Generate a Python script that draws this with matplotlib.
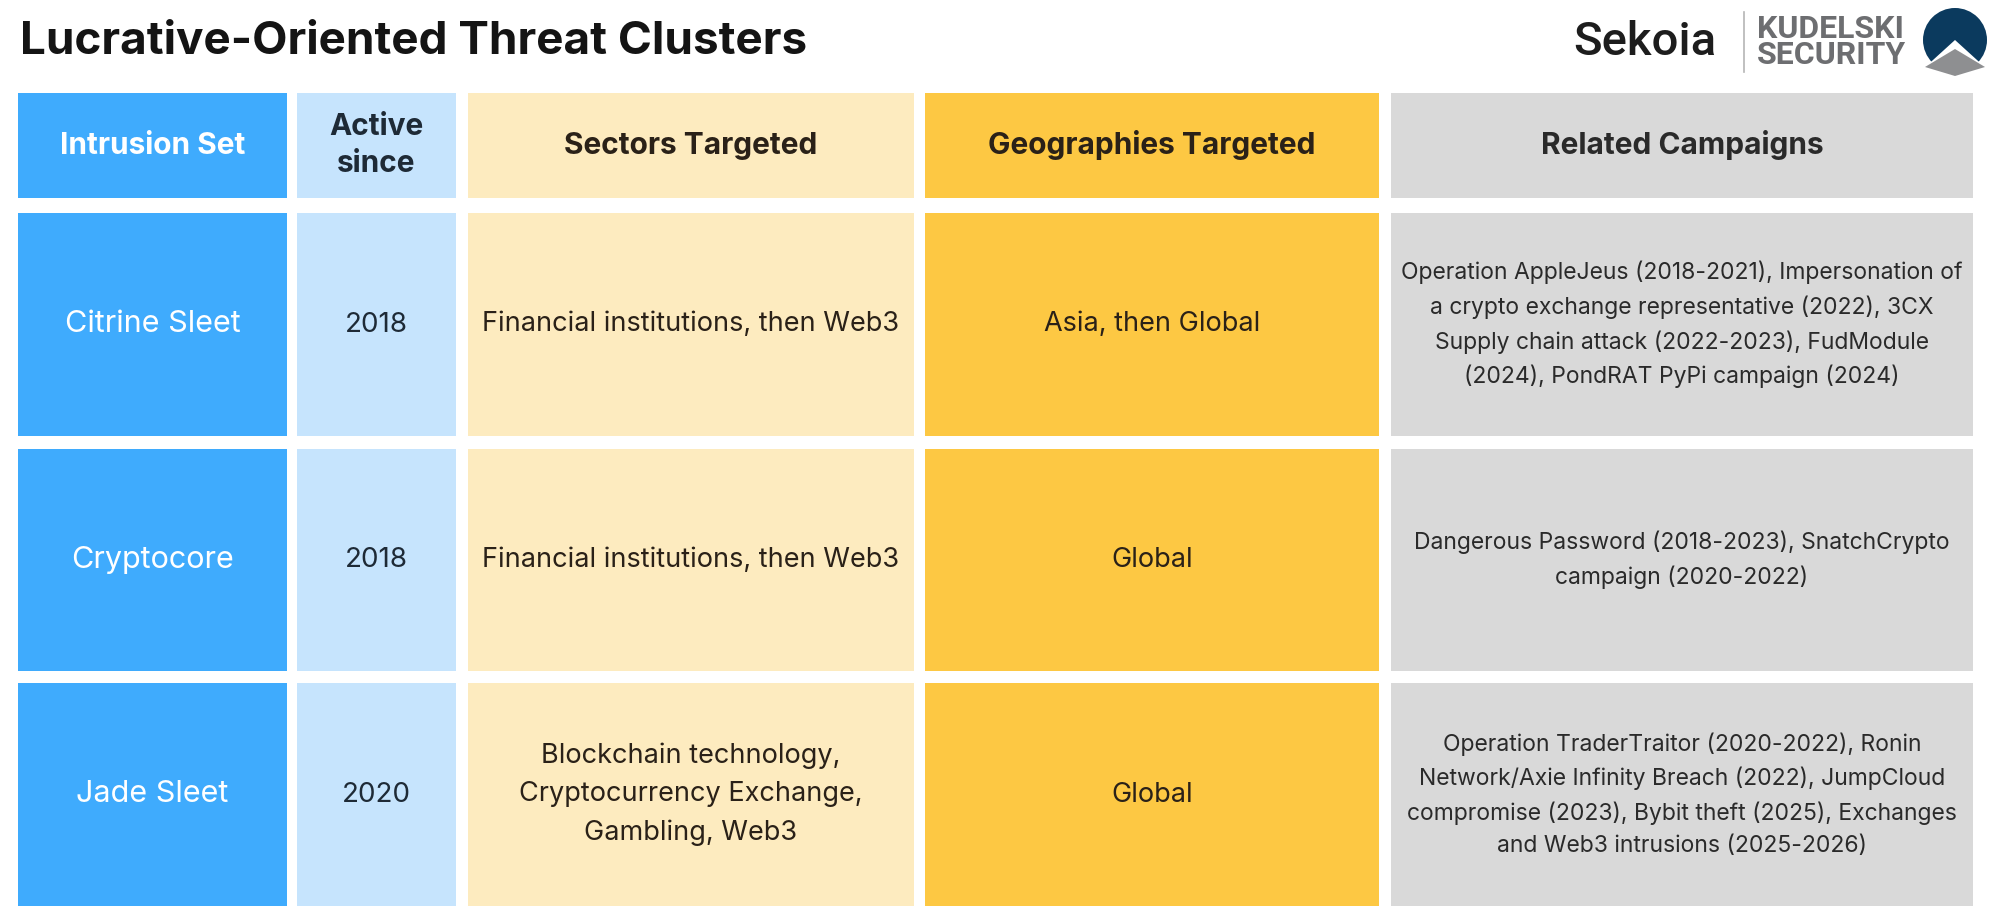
import matplotlib.pyplot as plt
from matplotlib.patches import Rectangle, Circle, Polygon

plt.rcParams["font.family"] = ["Inter", "DejaVu Sans"]

TITLE = "Lucrative-Oriented Threat Clusters"
HEADERS = ["Intrusion Set", "Active\nsince", "Sectors Targeted",
           "Geographies Targeted", "Related Campaigns"]
INTRUSION_SETS = ["Citrine Sleet", "Cryptocore", "Jade Sleet"]
ACTIVE_SINCE = ["2018", "2018", "2020"]
SECTORS = ["Financial institutions, then Web3",
           "Financial institutions, then Web3",
           "Blockchain technology,\nCryptocurrency Exchange,\nGambling, Web3"]
GEOGRAPHIES = ["Asia, then Global", "Global", "Global"]
CAMPAIGNS = [
    "Operation AppleJeus (2018-2021), Impersonation of\n"
    "a crypto exchange representative (2022), 3CX\n"
    "Supply chain attack (2022-2023), FudModule\n"
    "(2024), PondRAT PyPi campaign (2024)",
    "Dangerous Password (2018-2023), SnatchCrypto\ncampaign (2020-2022)",
    "Operation TraderTraitor (2020-2022), Ronin\n"
    "Network/Axie Infinity Breach (2022), JumpCloud\n"
    "compromise (2023), Bybit theft (2025), Exchanges\n"
    "and Web3 intrusions (2025-2026)",
]

# layout (pixels)
COL_X = [(18, 287), (297, 456), (468, 914), (925, 1379), (1391, 1973)]
ROW_Y = [(93, 198), (213, 436), (449, 671), (683, 906)]
COL_BG = ["#3fabfd", "#c6e4fd", "#fdebbf", "#fdc843", "#d9d9d9"]
COL_FG = ["white", "#1e2a36", "#2a2118", "#2a2118", "#2a2a2a"]
BODY_SIZE = [22, 20, 19.5, 19.5, 16.5]

fig = plt.figure(figsize=(20.07, 9.23), dpi=100)
ax = fig.add_axes([0, 0, 1, 1])
ax.set_xlim(0, 2007)
ax.set_ylim(923, 0)
ax.axis("off")

ax.text(20, 42, TITLE, fontsize=33, fontweight="bold", color="#141414",
        va="center", ha="left")

columns = [INTRUSION_SETS, ACTIVE_SINCE, SECTORS, GEOGRAPHIES, CAMPAIGNS]
for c, (x0, x1) in enumerate(COL_X):
    for r, (y0, y1) in enumerate(ROW_Y):
        ax.add_patch(Rectangle((x0, y0), x1 - x0, y1 - y0, facecolor=COL_BG[c],
                               edgecolor="none"))
        cx, cy = (x0 + x1) / 2, (y0 + y1) / 2
        if r == 0:
            ax.text(cx, cy, HEADERS[c], fontsize=21.5, fontweight="bold",
                    color=COL_FG[c], ha="center", va="center", linespacing=1.45)
        else:
            ax.text(cx, cy, columns[c][r - 1], fontsize=BODY_SIZE[c],
                    color=COL_FG[c], ha="center", va="center",
                    linespacing=1.6)

# logos
ax.text(1573, 42, "Sekoia", fontsize=34, fontweight="medium", color="#1d1d1d",
        ha="left", va="center", family=["Roboto", "DejaVu Sans"])
ax.plot([1744, 1744], [12, 72], color="#b5b5b5", lw=1.2)
ax.text(1757, 42, "KUDELSKI\nSECURITY", fontsize=23, fontweight="bold",
        color="#6d6e71", ha="left", va="center", linespacing=0.85,
        family=["Roboto", "DejaVu Sans"], fontstretch="condensed")
ax.add_patch(Circle((1955, 40), 32, facecolor="#0b3a5e", edgecolor="none"))
ax.add_patch(Polygon([(1911, 80), (1955, 40), (1999, 80)], closed=True,
                     facecolor="white", edgecolor="none"))
ax.add_patch(Polygon([(1925, 67), (1955, 49), (1985, 67), (1955, 76)],
                     closed=True, facecolor="#8e8f91", edgecolor="none"))

fig.savefig("out.png", dpi=100)
